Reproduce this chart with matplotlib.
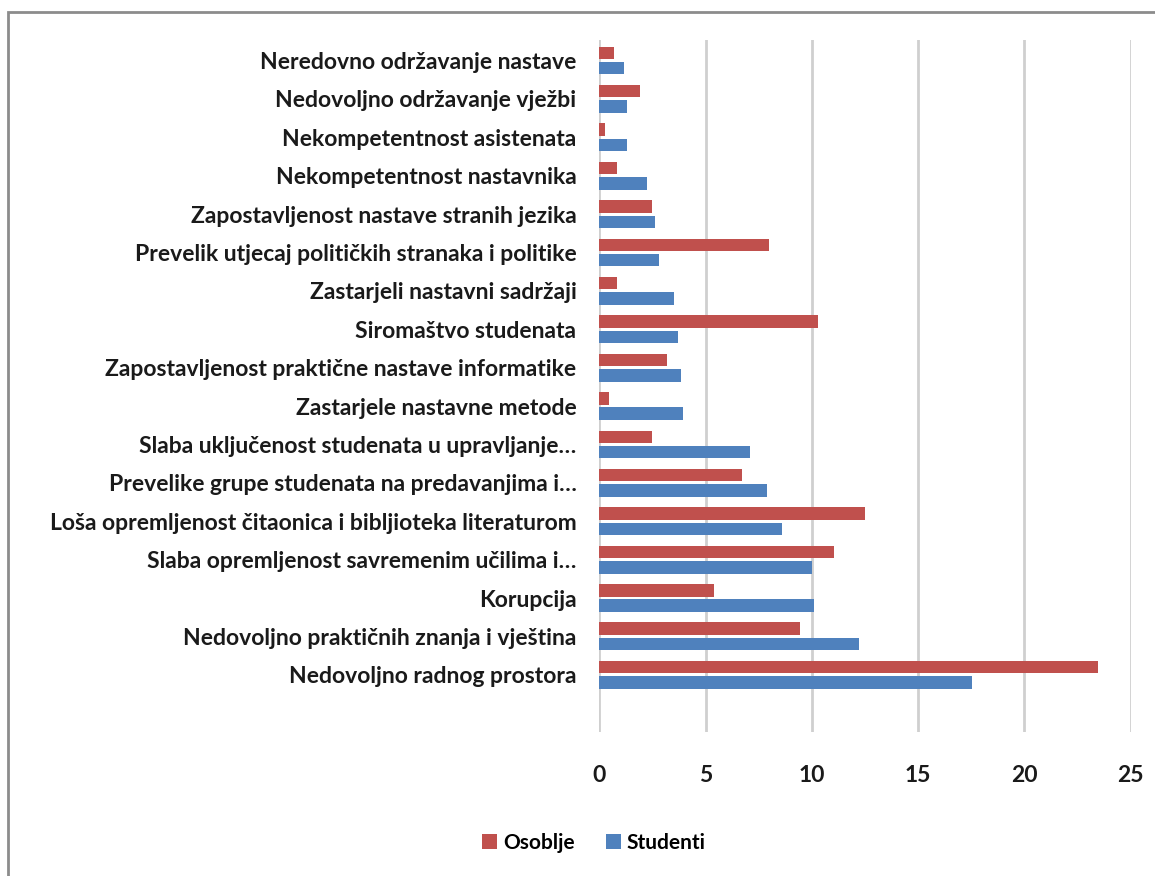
#!/usr/bin/env python3

import matplotlib
matplotlib.use("Agg")
import matplotlib.pyplot as plt
import numpy as np
from matplotlib.patches import Rectangle

# categories, top to bottom as in the chart
categories = [
    "Neredovno održavanje nastave",
    "Nedovoljno održavanje vježbi",
    "Nekompetentnost asistenata",
    "Nekompetentnost nastavnika",
    "Zapostavljenost nastave stranih jezika",
    "Prevelik utjecaj političkih stranaka i politike",
    "Zastarjeli nastavni sadržaji",
    "Siromaštvo studenata",
    "Zapostavljenost praktične nastave informatike",
    "Zastarjele nastavne metode",
    "Slaba uključenost studenata u upravljanje…",
    "Prevelike grupe studenata na predavanjima i…",
    "Loša opremljenost čitaonica i bibljioteka literaturom",
    "Slaba opremljenost savremenim učilima i…",
    "Korupcija",
    "Nedovoljno praktičnih znanja i vještina",
    "Nedovoljno radnog prostora",
]

osoblje = [0.7, 1.9, 0.25, 0.85, 2.5, 8.0, 0.85, 10.3, 3.2, 0.45,
           2.5, 6.7, 12.5, 11.05, 5.4, 9.45, 23.45]
studenti = [1.15, 1.3, 1.3, 2.25, 2.6, 2.8, 3.5, 3.7, 3.85, 3.95,
            7.1, 7.9, 8.6, 10.0, 10.1, 12.2, 17.55]

xticks = [0, 5, 10, 15, 20, 25]

red = "#C0504D"
blue = "#4F81BD"

plt.rcParams['font.family'] = ['Lato', 'DejaVu Sans']

fig = plt.figure(figsize=(11.55, 8.76), dpi=100)
ax = fig.add_axes([0.5189, 0.1644, 0.979 - 0.5189, 0.9543 - 0.1644])

y = np.arange(len(categories))
h = 0.325
ax.barh(y - 0.2, osoblje, height=h, color=red, label="Osoblje", zorder=3)
ax.barh(y + 0.2, studenti, height=h, color=blue, label="Studenti", zorder=3)

ax.set_xlim(0, 25)
ax.set_ylim(17.49, -0.534)
ax.set_xticks(xticks)
ax.set_yticks(y)
ax.set_yticklabels(categories)
ax.tick_params(axis="both", length=0, labelsize=16.5, colors="#1a1a1a")
ax.tick_params(axis="x", pad=24)
ax.tick_params(axis="y", pad=16.5)
for lbl in ax.get_xticklabels() + ax.get_yticklabels():
    lbl.set_fontweight("bold")

ax.grid(axis="x", color="#CFCFCF", linewidth=2, zorder=0)
ax.grid(axis="y", visible=False)
for s in ax.spines.values():
    s.set_visible(False)

fig.legend(loc="center", bbox_to_anchor=(594 / 1155, 1 - 843 / 876), ncol=2,
           frameon=False, prop={"size": 15, "weight": "bold"},
           handlelength=0.7, handleheight=0.7, handletextpad=0.3,
           columnspacing=1.5)

# outer frame of the chart area
fig.patches.append(Rectangle((8 / 1155, -0.05), 1.1, 1 - 12 / 876 + 0.05,
                             transform=fig.transFigure, fill=False,
                             edgecolor="#8C8C8C", linewidth=2))

fig.savefig("out.png", dpi=100)
